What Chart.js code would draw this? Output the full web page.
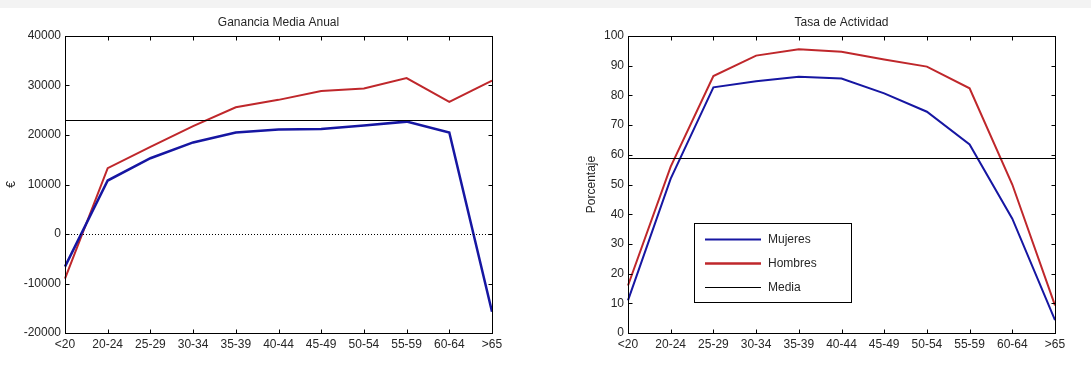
<!DOCTYPE html>
<html>
<head>
<meta charset="utf-8">
<script src="https://cdn.jsdelivr.net/npm/chart.js@4.4.1/dist/chart.umd.min.js"></script>
<style>
  html, body { margin: 0; padding: 0; background: #fff; }
  #band { position: absolute; left: 0; top: 0; width: 1091px; height: 8px; background: #f3f3f3; }
  .wrap { position: absolute; top: 0; height: 365px; }
</style>
</head>
<body>
<div id="band"></div>
<div class="wrap" style="left:0;width:545px"><canvas id="c1" width="545" height="365"></canvas></div>
<div class="wrap" style="left:545px;width:546px"><canvas id="c2" width="546" height="365"></canvas></div>
<script>
  // datos
  var edades = ['<20', '20-24', '25-29', '30-34', '35-39', '40-44', '45-49', '50-54', '55-59', '60-64', '>65'];

  var gananciaMujeres = [-6600, 10800, 15300, 18500, 20500, 21100, 21200, 21900, 22700, 20500, -15700];
  var gananciaHombres = [-9000, 13300, 17600, 21800, 25600, 27100, 28900, 29400, 31500, 26700, 31000];
  var gananciaMedia = 23000;
  var ticksGanancia = [-20000, -10000, 0, 10000, 20000, 30000, 40000];

  var actividadMujeres = [11, 52, 82.7, 84.8, 86.3, 85.7, 80.7, 74.5, 63.5, 38.5, 4.3];
  var actividadHombres = [16, 56, 86.5, 93.4, 95.5, 94.7, 92.1, 89.7, 82.4, 50, 9.3];
  var actividadMedia = 58.8;
  var ticksActividad = [0, 10, 20, 30, 40, 50, 60, 70, 80, 90, 100];

  var AZUL = '#1616a2';
  var ROJO = '#bf272b';
  var FONT = '"Liberation Sans", Arial, sans-serif';
  var TXT = '#262626';

  // marco estilo matlab: caja, ticks interiores, media, titulos, leyenda
  var marco = {
    id: 'marco',
    afterDatasetsDraw: function (chart, args, opts) {
      var ctx = chart.ctx;
      var a = chart.chartArea;
      var y = chart.scales.y;
      ctx.save();
      ctx.strokeStyle = '#000';
      ctx.lineWidth = 1;
      if (opts.zero) {
        var pz = Math.round(y.getPixelForValue(0)) + 0.5;
        ctx.setLineDash([1, 2]);
        ctx.beginPath();
        ctx.moveTo(a.left, pz);
        ctx.lineTo(a.right, pz);
        ctx.stroke();
        ctx.setLineDash([]);
      }
      // linea de la media (dataset 'Media')
      var pm = Math.round(y.getPixelForValue(chart.data.datasets[2].data[0])) + 0.5;
      ctx.beginPath();
      ctx.moveTo(a.left, pm);
      ctx.lineTo(a.right, pm);
      ctx.stroke();
      ctx.restore();
    },
    afterDraw: function (chart, args, opts) {
      var ctx = chart.ctx;
      var a = chart.chartArea;
      var x = chart.scales.x, y = chart.scales.y;
      var L = 4;
      ctx.save();

      ctx.strokeStyle = '#000';
      ctx.lineWidth = 1;
      var l = Math.round(a.left) + 0.5, r = Math.round(a.right) + 0.5;
      var t = Math.round(a.top) + 0.5, b = Math.round(a.bottom) + 0.5;
      ctx.strokeRect(l, t, r - l, b - t);

      ctx.beginPath();
      edades.forEach(function (e, i) {
        var px = Math.round(x.getPixelForValue(i)) + 0.5;
        ctx.moveTo(px, b); ctx.lineTo(px, b - L);
        ctx.moveTo(px, t); ctx.lineTo(px, t + L);
      });
      y.ticks.forEach(function (tk) {
        var py = Math.round(y.getPixelForValue(tk.value)) + 0.5;
        ctx.moveTo(l, py); ctx.lineTo(l + L, py);
        ctx.moveTo(r, py); ctx.lineTo(r - L, py);
      });
      ctx.stroke();

      ctx.fillStyle = TXT;
      ctx.font = '12px ' + FONT;
      ctx.textAlign = 'center';
      ctx.textBaseline = 'middle';
      ctx.fillText(opts.title, (a.left + a.right) / 2, 23);

      ctx.save();
      ctx.translate(opts.ylabelX, (a.top + a.bottom) / 2);
      ctx.rotate(-Math.PI / 2);
      ctx.fillText(opts.ylabel, 0, 0);
      ctx.restore();

      if (opts.legend) {
        var lg = opts.legend;
        ctx.fillStyle = '#fff';
        ctx.fillRect(lg.x, lg.y, lg.w, lg.h);
        ctx.strokeStyle = '#000';
        ctx.lineWidth = 1;
        ctx.strokeRect(lg.x + 0.5, lg.y + 0.5, lg.w, lg.h);
        chart.data.datasets.forEach(function (ds, i) {
          var ly = lg.y + 16.5 + i * 24;
          ctx.strokeStyle = ds.borderColor;
          ctx.lineWidth = ds.legendWidth;
          ctx.beginPath();
          ctx.moveTo(lg.x + 11, ly);
          ctx.lineTo(lg.x + 67, ly);
          ctx.stroke();
          ctx.fillStyle = TXT;
          ctx.textAlign = 'left';
          ctx.fillText(ds.label, lg.x + 74, ly);
        });
      }
      ctx.restore();
    }
  };

  function crear(id, mujeres, hombres, media, ticks, yw, padR, extra) {
    return new Chart(document.getElementById(id), {
      type: 'line',
      data: {
        labels: edades,
        datasets: [
          { label: 'Mujeres', data: mujeres, borderColor: AZUL, borderWidth: extra.wAzul, legendWidth: 2 },
          { label: 'Hombres', data: hombres, borderColor: ROJO, borderWidth: 2, legendWidth: 2.5 },
          { label: 'Media', data: edades.map(function () { return media; }), borderColor: '#000', showLine: false, legendWidth: 1 }
        ]
      },
      options: {
        responsive: false,
        animation: false,
        layout: { padding: { left: 0, top: 36, right: padR, bottom: 0 } },
        elements: { point: { radius: 0 }, line: { tension: 0 } },
        plugins: {
          legend: { display: false },
          tooltip: { enabled: false },
          marco: extra.marco
        },
        scales: {
          x: {
            offset: false,
            grid: { display: false, drawTicks: false },
            border: { display: false },
            ticks: { autoSkip: false, maxRotation: 0, padding: 4, color: TXT, font: { family: FONT, size: 12 } },
            afterFit: function (s) { s.height = 32; }
          },
          y: {
            min: ticks[0],
            max: ticks[ticks.length - 1],
            grid: { display: false, drawTicks: false },
            border: { display: false },
            afterBuildTicks: function (s) { s.ticks = ticks.map(function (v) { return { value: v }; }); },
            ticks: {
              padding: 4, color: TXT, font: { family: FONT, size: 12 },
              callback: function (v) { return String(v); }
            },
            afterFit: function (s) { s.width = yw; }
          }
        }
      },
      plugins: [marco]
    });
  }

  crear('c1', gananciaMujeres, gananciaHombres, gananciaMedia, ticksGanancia, 65, 53, {
    wAzul: 2.5,
    marco: { title: 'Ganancia Media Anual', ylabel: '€', ylabelX: 12, zero: true }
  });

  crear('c2', actividadMujeres, actividadHombres, actividadMedia, ticksActividad, 83, 36, {
    wAzul: 2,
    marco: {
      title: 'Tasa de Actividad', ylabel: 'Porcentaje', ylabelX: 47, zero: false,
      legend: { x: 149, y: 223, w: 157, h: 79 }
    }
  });
</script>
</body>
</html>
